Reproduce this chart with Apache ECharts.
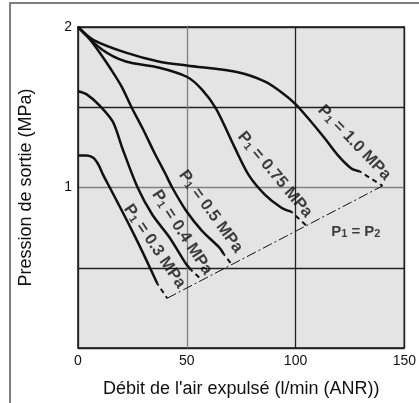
<!DOCTYPE html>
<html>
<head>
<meta charset="utf-8">
<script src="https://cdn.jsdelivr.net/npm/echarts@6/dist/echarts.min.js"></script>
<style>
html, body { margin: 0; padding: 0; background: #fff; }
#myChart { width: 419px; height: 403px; }
</style>
</head>
<body>
<div id="myChart"></div>
<script>
// pression d'alimentation P1 (MPa) de chaque courbe
const pressures = ['1.0', '0.75', '0.5', '0.4', '0.3'];

// débit (l/min) et pression de sortie (MPa)
const flow10 = [0, 7, 22, 37, 50, 74, 86, 93.5, 100, 106, 113.5, 119.5, 125.5, 129.5];
const out10 = [2.0, 1.92, 1.84, 1.785, 1.76, 1.717, 1.66, 1.594, 1.52, 1.428, 1.305, 1.2, 1.12, 1.10];

const flow075 = [0, 11, 22, 37, 50, 57, 63.5, 72, 78.5, 86, 93.5, 98];
const out075 = [2.0, 1.86, 1.785, 1.748, 1.69, 1.61, 1.49, 1.25, 1.077, 0.954, 0.874, 0.85];

const flow05 = [0, 5, 10, 15, 20, 24.6, 30, 35, 40, 43.3, 49.7, 57, 64.8, 67];
const out05 = [2.0, 1.93, 1.84, 1.74, 1.63, 1.5, 1.36, 1.22, 1.09, 1.0, 0.855, 0.73, 0.628, 0.585];

const flow04 = [0, 4, 10, 16, 20.5, 27.4, 34.2, 42, 49.7, 52];
const out04 = [1.6, 1.58, 1.51, 1.41, 1.24, 1.0, 0.83, 0.69, 0.523, 0.486];

const flow03 = [0, 4, 7, 9.5, 11.5, 14.6, 20, 26, 31, 36.5];
const out03 = [1.2, 1.2, 1.185, 1.14, 1.08, 1.0, 0.86, 0.7, 0.56, 0.4];

// prolongement en pointillés jusqu'à la droite P1 = P2
const extFlow = [140, 105, 70.7, 57, 41];
const extOut = [1.01, 0.762, 0.52, 0.423, 0.31];

// droite P1 = P2
const equalFlow = [41, 140];
const equalOut = [0.31, 1.01];

// ancrage des étiquettes
const labelFlow = [127, 90.5, 61, 47.8, 35.2, 127.7];
const labelOut = [1.28, 1.08, 0.85, 0.72, 0.634, 0.726];

const xTicks = [0, 50, 100, 150];
const yTicks = [1, 2];

const zip = (xs, ys) => xs.map((x, i) => [x, ys[i]]);
const curves = [zip(flow10, out10), zip(flow075, out075), zip(flow05, out05), zip(flow04, out04), zip(flow03, out03)];
const angles = [-46, -50, -54, -57, -56];
const font = '"Liberation Sans", Arial, sans-serif';

let myChart = echarts.init(document.getElementById('myChart'));

let series = [];
curves.forEach((pts, i) => {
    series.push({
        type: 'line', data: pts, smooth: 0.3, symbol: 'none', z: 3,
        lineStyle: { color: '#111', width: 2.5 }
    });
    series.push({
        type: 'line', data: [pts[pts.length - 1], [extFlow[i], extOut[i]]], symbol: 'none', z: 3,
        lineStyle: { color: '#111', width: 2, type: [5, 4], dashOffset: 3 }
    });
});
series.push({
    type: 'line', data: zip(equalFlow, equalOut), symbol: 'none', z: 3,
    lineStyle: { color: '#111', width: 1, type: [10, 3, 2, 3] }
});

const rich = {
    p: { fontSize: 16.5, fontWeight: 'bold', fontFamily: font, color: '#111', verticalAlign: 'bottom' },
    s: { fontSize: 11, fontWeight: 'bold', fontFamily: font, color: '#111', verticalAlign: 'bottom' }
};
let labelData = pressures.map((p, i) => ({
    value: [labelFlow[i], labelOut[i]],
    label: { rotate: angles[i], formatter: '{p|P}{s|1}{p| = ' + p + ' MPa}' }
}));
labelData.push({
    value: [labelFlow[5], labelOut[5]],
    label: { rotate: 0, formatter: '{p|P}{s|1}{p| = P}{s|2}', rich: {
        p: Object.assign({}, rich.p, { fontSize: 15 }),
        s: rich.s
    } }
});
series.push({
    type: 'scatter', symbolSize: 0, data: labelData, z: 5, silent: true,
    label: { show: true, position: 'inside', rich: rich }
});

var option = {
    animation: false,
    grid: {
        left: 78, right: 11.5, top: 27, bottom: 51,
        show: true, backgroundColor: '#e4e4e4', borderColor: '#111', borderWidth: 1.5
    },
    xAxis: {
        type: 'value', min: 0, max: 150, interval: 50,
        name: "Débit de l'air expulsé (l/min (ANR))", nameLocation: 'middle', nameGap: 32,
        nameTextStyle: { fontSize: 18, color: '#111', fontFamily: font },
        axisLine: { show: false }, axisTick: { show: false },
        axisLabel: { fontSize: 14, color: '#111', fontFamily: font, margin: 6,
            formatter: v => xTicks.includes(v) ? String(v) : '' },
        splitLine: { show: true, lineStyle: { color: ['#222', '#808080', '#222', '#222'], width: 1.3 } }
    },
    yAxis: {
        type: 'value', min: 0, max: 2, interval: 0.5,
        name: 'Pression de sortie (MPa)', nameLocation: 'middle', nameGap: 43,
        nameTextStyle: { fontSize: 18, color: '#111', fontFamily: font },
        axisLine: { show: false }, axisTick: { show: false },
        axisLabel: { fontSize: 14, color: '#111', fontFamily: font, margin: 6,
            formatter: v => yTicks.includes(v) ? String(v) : '' },
        splitLine: { show: true, lineStyle: { color: ['#222', '#222', '#808080', '#222', '#222'], width: 1.3 } }
    },
    graphic: [{
        type: 'rect', silent: true,
        shape: { x: 10, y: 3, width: 430, height: 420 },
        style: { fill: 'none', stroke: '#555', lineWidth: 1.5 }
    }],
    series: series
};
myChart.setOption(option);
</script>
</body>
</html>
